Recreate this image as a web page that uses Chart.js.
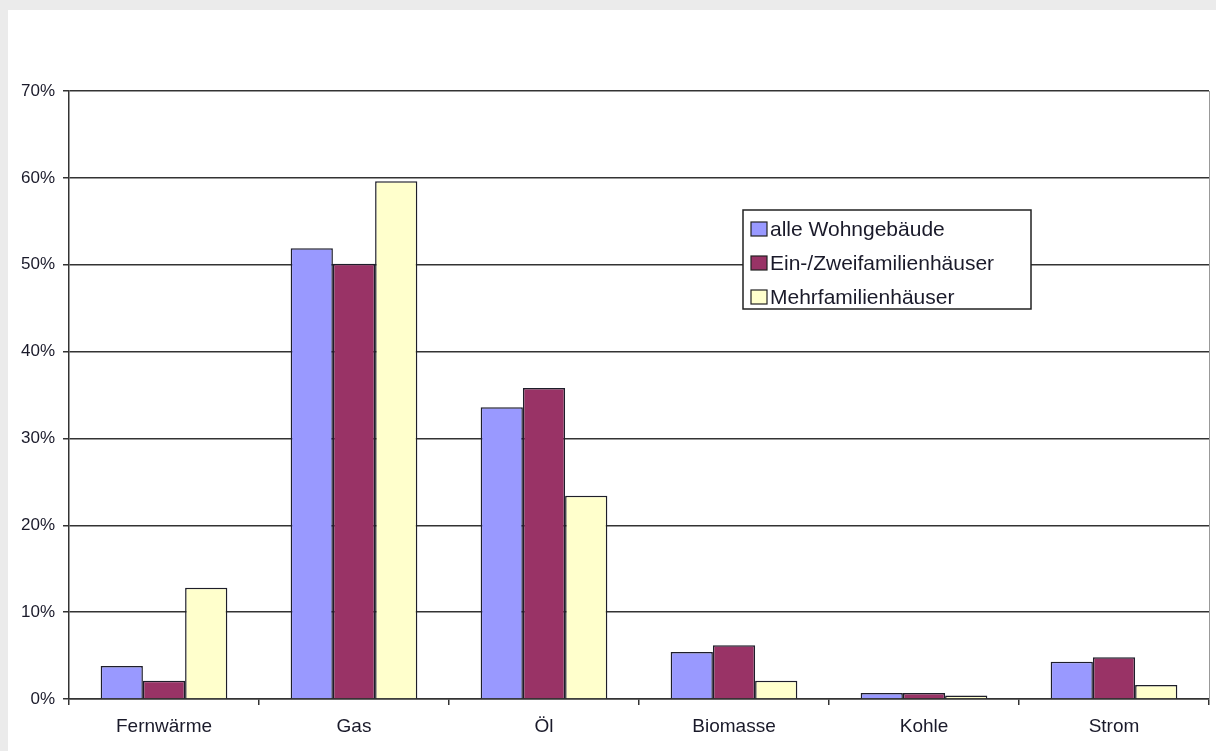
<!DOCTYPE html>
<html>
<head>
<meta charset="utf-8">
<script src="https://cdn.jsdelivr.net/npm/chart.js@4/dist/chart.umd.min.js"></script>
<style>
  html, body { margin: 0; padding: 0; background: #ebebeb; }
  #sheet { position: absolute; left: 8px; top: 10px; width: 1208px; height: 741px; background: #fff; }
  #chart { position: absolute; left: 0; top: 0; }
</style>
</head>
<body>
<div id="sheet"></div>
<canvas id="chart" width="1216" height="751"></canvas>
<script>
// Anteil der Heizsysteme nach Gebäudetyp (in %)
const categories = ['Fernwärme', 'Gas', 'Öl', 'Biomasse', 'Kohle', 'Strom'];
const seriesNames = ['alle Wohngebäude', 'Ein-/Zweifamilienhäuser', 'Mehrfamilienhäuser'];
const alleWohngebaeude = [3.8, 51.9, 33.6, 5.4, 0.7, 4.3];
const einZweifamilienhaeuser = [2.1, 50.1, 35.8, 6.2, 0.7, 4.8];
const mehrfamilienhaeuser = [12.8, 59.6, 23.4, 2.1, 0.4, 1.6];
const yMax = 70;
const yStep = 10;

const colors = ['#9999ff', '#993366', '#ffffcc'];
const fontFamily = '"Liberation Sans", Arial, sans-serif';

// Legend box drawn inside the plot, like the Excel original
const boxLegend = {
    id: 'boxLegend',
    afterDraw(chart) {
        const ctx = chart.ctx;
        const x0 = 743, y0 = 210, w = 288, h = 99;
        ctx.save();
        ctx.fillStyle = '#fff';
        ctx.fillRect(x0, y0, w, h);
        ctx.strokeStyle = '#222';
        ctx.lineWidth = 1.5;
        ctx.strokeRect(x0, y0, w, h);
        ctx.font = '21px ' + fontFamily;
        ctx.textBaseline = 'middle';
        chart.data.datasets.forEach(function(ds, i) {
            const cy = 229 + i * 34;
            ctx.fillStyle = ds.backgroundColor;
            ctx.fillRect(751, cy - 7, 16, 14);
            ctx.strokeStyle = '#222';
            ctx.lineWidth = 1.2;
            ctx.strokeRect(751, cy - 7, 16, 14);
            ctx.fillStyle = '#1a1a2a';
            ctx.fillText(ds.label, 770, cy + 1);
        });
        ctx.restore();
    }
};

// right border of the plot area
const plotBorder = {
    id: 'plotBorder',
    beforeDatasetsDraw(chart) {
        const a = chart.chartArea;
        const ctx = chart.ctx;
        ctx.save();
        ctx.strokeStyle = '#999';
        ctx.lineWidth = 1;
        ctx.beginPath();
        ctx.moveTo(Math.round(a.right) + 0.5, a.top);
        ctx.lineTo(Math.round(a.right) + 0.5, a.bottom);
        ctx.stroke();
        ctx.restore();
    }
};

const ctx = document.getElementById('chart').getContext('2d');
new Chart(ctx, {
    type: 'bar',
    data: {
        labels: categories,
        datasets: [
            { label: seriesNames[0], data: alleWohngebaeude, backgroundColor: colors[0] },
            { label: seriesNames[1], data: einZweifamilienhaeuser, backgroundColor: colors[1] },
            { label: seriesNames[2], data: mehrfamilienhaeuser, backgroundColor: colors[2] }
        ].map(function(d) {
            return Object.assign(d, { borderColor: '#1e1e2a', borderWidth: 1.5, borderSkipped: 'bottom',
                categoryPercentage: 3 / 4.5, barPercentage: 1 });
        })
    },
    options: {
        responsive: false,
        animation: false,
        layout: { padding: { left: 0, top: 91, right: 7, bottom: 0 } },
        plugins: {
            legend: { display: false },
            tooltip: { enabled: false }
        },
        scales: {
            x: {
                afterFit: function(scale) { scale.height = 52; },
                grid: { drawOnChartArea: false, drawTicks: true, tickLength: 6, color: '#333', lineWidth: 1.5, offset: true },
                border: { display: true, color: '#333', width: 1.5 },
                ticks: { color: '#1a1a2a', padding: 10, font: { family: fontFamily, size: 19 } }
            },
            y: {
                min: 0,
                max: yMax,
                afterFit: function(scale) { scale.width = 69; },
                grid: { color: '#333', lineWidth: 1.5, tickLength: 6 },
                border: { display: true, color: '#333', width: 1.5 },
                ticks: {
                    stepSize: yStep,
                    padding: 8,
                    color: '#1a1a2a',
                    font: { family: fontFamily, size: 17 },
                    callback: function(v) { return v + '%'; }
                }
            }
        }
    },
    plugins: [plotBorder, boxLegend]
});
</script>
</body>
</html>
